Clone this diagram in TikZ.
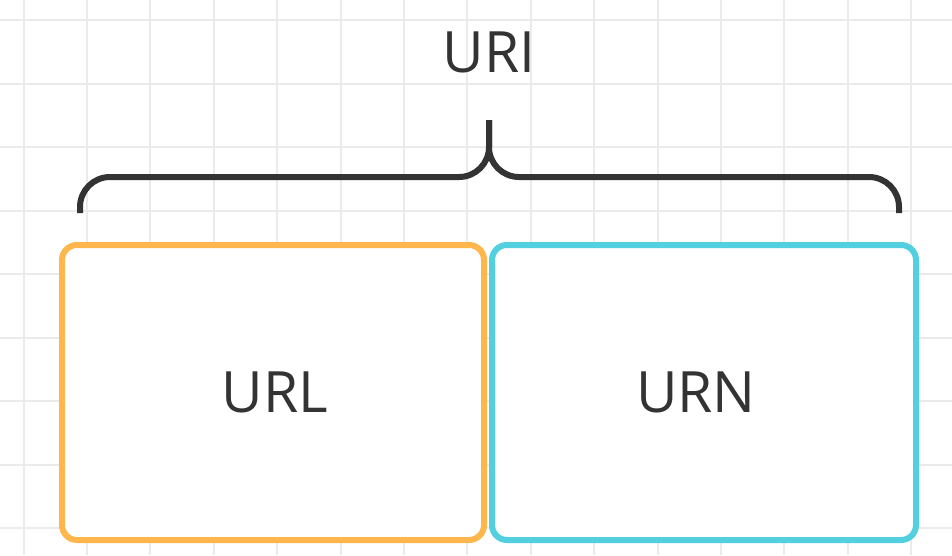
\documentclass[tikz,border=0pt]{standalone}
\usepackage{fontspec}
\setmainfont{Open Sans}
\usepackage{tikz}

\definecolor{gridgray}{HTML}{EBEBEB}
\definecolor{inkgray}{HTML}{333333}
\definecolor{urlorange}{HTML}{FFB64D}
\definecolor{urncyan}{HTML}{52D0E0}

\begin{document}
\begin{tikzpicture}[x=1pt,y=-1pt,
		box/.style={draw,line width=6pt,rounded corners=15pt,fill=white,minimum height=295pt,text=inkgray,font=\fontsize{57}{60}\selectfont},
		brace/.style={draw=inkgray,line width=6pt,rounded corners=30pt}]
				\useasboundingbox (0,0) rectangle (952,555);
				\fill[white] (0,0) rectangle (952,555);
				% background grid
				\foreach \i in {0,...,14}
					\draw[line width=2pt,gridgray] (23.5+63.4*\i,0)--(23.5+63.4*\i,555);
				\foreach \j in {0,...,8}
					\draw[line width=2pt,gridgray] (0,20+63.5*\j)--(952,20+63.5*\j);
				% the two parts
				\node[box,draw=urlorange,minimum width=422pt] (url) at (273,392.5) {\hspace*{4pt}URL};
				\node[box,draw=urncyan,minimum width=424pt] (urn) at (704,392.5) {URN\hspace*{16pt}};
				% brace over both
				\draw[brace] (80,213)--(80,177)--(489,177)--(489,120);
				\draw[brace] (899,213)--(899,177)--(489,177)--(489,120);
				\node[text=inkgray,font=\fontsize{57}{60}\selectfont] (uri) at (489,52) {URI};
			\end{tikzpicture}
\end{document}
